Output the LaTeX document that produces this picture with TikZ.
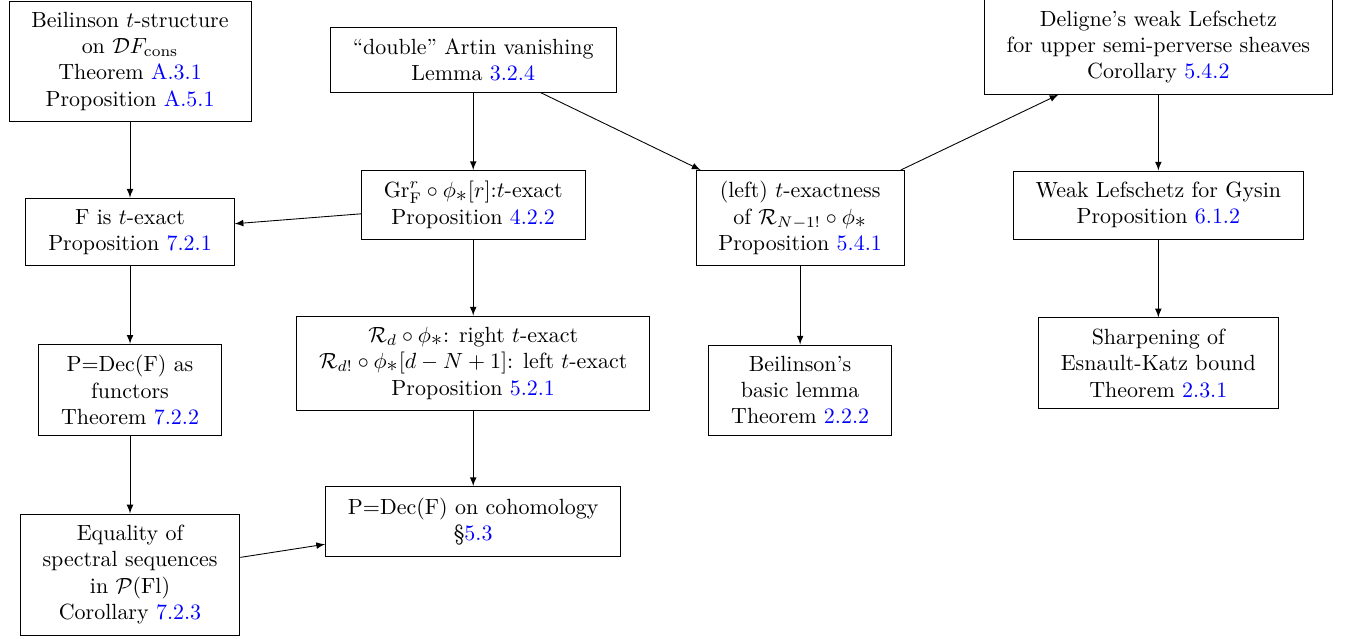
\documentclass[tikz,border=0pt]{standalone}
\usepackage{amsmath,amssymb}
\usetikzlibrary{arrows}

\newcommand{\refnum}[1]{\textcolor{blue}{#1}}
\newcommand{\pushf}{\phi_{\textstyle\ast}}
\tikzset{
  resultbox/.style={shape=rectangle,draw,align=center,inner xsep=10.2pt,inner ysep=5pt},
  dep/.style={->,>=latex}
}

\begin{document}
\begin{tikzpicture}
\useasboundingbox (0,0) rectangle (21.58,-10.22);
\node[resultbox] (beil_t) at (2.08,-0.98) {Beilinson $t$-structure\\ on $\mathcal{D}F_{\mathrm{cons}}$\\ Theorem \refnum{A.3.1}\\ Proposition \refnum{A.5.1}};
\node[resultbox] (f_exact) at (2.08,-3.71) {F is $t$-exact\\ Proposition \refnum{7.2.1}};
\node[resultbox] (pdec_fun) at (2.08,-6.24) {P=Dec(F) as\\ functors\\ Theorem \refnum{7.2.2}};
\node[resultbox] (spec_seq) at (2.08,-9.19) {Equality of\\ spectral sequences\\ in $\mathcal{P}(\mathrm{Fl})$\\ Corollary \refnum{7.2.3}};
\node[resultbox] (artin) at (7.57,-0.96) {``double'' Artin vanishing\\ Lemma \refnum{3.2.4}};
\node[resultbox] (gr_exact) at (7.57,-3.28) {$\mathrm{Gr}^{r}_{\mathrm{F}}\circ\pushf[r]$:$t$-exact\\ Proposition \refnum{4.2.2}};
\node[resultbox] (r_exact) at (7.57,-5.81) {$\mathcal{R}_{d}\circ\pushf$: right $t$-exact\\ $\mathcal{R}_{d!}\circ\pushf[d-N+1]$: left $t$-exact\\ Proposition \refnum{5.2.1}};
\node[resultbox] (pdec_coh) at (7.57,-8.34) {P=Dec(F) on cohomology\\ \S\refnum{5.3}};
\node[resultbox] (left_exact) at (12.8,-3.49) {(left) $t$-exactness\\ of $\mathcal{R}_{N-1!}\circ\pushf$\\ Proposition \refnum{5.4.1}};
\node[resultbox] (beil_lemma) at (12.8,-6.24) {Beilinson's\\ basic lemma\\ Theorem \refnum{2.2.2}};
\node[resultbox] (deligne) at (18.53,-0.75) {Deligne's weak Lefschetz\\ for upper semi-perverse sheaves\\ Corollary \refnum{5.4.2}};
\node[resultbox] (gysin) at (18.53,-3.28) {Weak Lefschetz for Gysin\\ Proposition \refnum{6.1.2}};
\node[resultbox] (ek_bound) at (18.53,-5.81) {Sharpening of\\ Esnault-Katz bound\\ Theorem \refnum{2.3.1}};

\draw[dep] (beil_t) to (f_exact);
\draw[dep] (f_exact) to (pdec_fun);
\draw[dep] (pdec_fun) to (spec_seq);
\draw[dep] (spec_seq) to (pdec_coh);
\draw[dep] (gr_exact) to (f_exact);
\draw[dep] (artin) to (gr_exact);
\draw[dep] (gr_exact) to (r_exact);
\draw[dep] (r_exact) to (pdec_coh);
\draw[dep] (artin) to (left_exact);
\draw[dep] (left_exact) to (beil_lemma);
\draw[dep] (left_exact) to (deligne);
\draw[dep] (deligne) to (gysin);
\draw[dep] (gysin) to (ek_bound);
\end{tikzpicture}
\end{document}
